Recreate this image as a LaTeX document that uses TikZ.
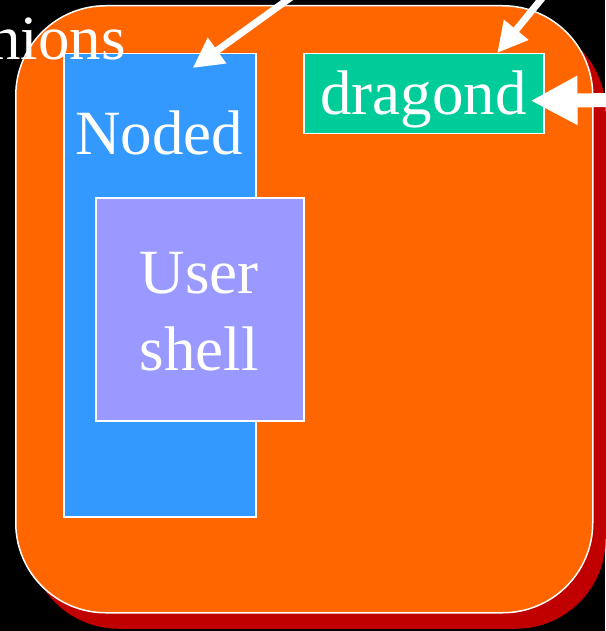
\documentclass[tikz,border=0pt]{standalone}
\usepackage{fontspec}
\setmainfont{Liberation Serif}
\usetikzlibrary{arrows.meta,positioning}

\definecolor{orangebg}{HTML}{FF6600}
\definecolor{shadowred}{HTML}{C00000}
\definecolor{nodedblue}{HTML}{3399FF}
\definecolor{shellpurple}{HTML}{9999FF}
\definecolor{dragongreen}{HTML}{00CC99}

\begin{document}
\begin{tikzpicture}[x=1pt, y=-1pt]
  % Define styles
  \tikzstyle{box} = [rectangle, draw=white, line width=1.5pt, anchor=north west, inner sep=0pt]
  \tikzstyle{txt} = [text=white, font=\fontsize{63}{77}\selectfont, anchor=base, inner sep=0pt]
  \tikzstyle{line} = [draw=white, line width=7pt, -{Triangle[length=30pt, width=30pt]}]

  \fill[black] (0,0) rectangle (605,631);
  \useasboundingbox (0,0) rectangle (605,631);

  % Place nodes
  \node [box, draw=none, fill=shadowred, rounded corners=90pt, minimum width=577pt, minimum height=607pt] (shadow) at (28,21) {};
  \node [box, fill=orangebg, rounded corners=90pt, minimum width=577pt, minimum height=607pt] (minions) at (15,5) {};
  \node [box, fill=nodedblue, minimum width=192pt, minimum height=463pt] (noded) at (63,53) {};
  \node [box, fill=shellpurple, minimum width=208pt, minimum height=223pt] (shell) at (95,197) {};
  \node [box, fill=dragongreen, minimum width=240pt, minimum height=80pt] (dragond) at (303,53) {};

  \node [txt, anchor=base east] (title) at (126,60) {nions};
  \node [txt] (nodedtxt) at (159,155) {Noded};
  \node [txt] (usertxt) at (199,293) {User};
  \node [txt] (shelltxt) at (199,370) {shell};
  \node [txt] (dragondtxt) at (423.5,115) {dragond};

  % Draw edges
  \coordinate (src1) at (322,-25);
  \coordinate (src2) at (561,-25);
  \coordinate (src3) at (625,100);
  \path [line] (src1) -- ([xshift=33pt, yshift=-15pt]noded.north);
  \path [line] (src2) -- ([xshift=73.5pt]dragond.north);
  \path [line, line width=14pt, -{Triangle[length=47pt, width=46pt]}] (src3) -- ([xshift=-14pt, yshift=-7pt]dragond.east);
\end{tikzpicture}
\end{document}
